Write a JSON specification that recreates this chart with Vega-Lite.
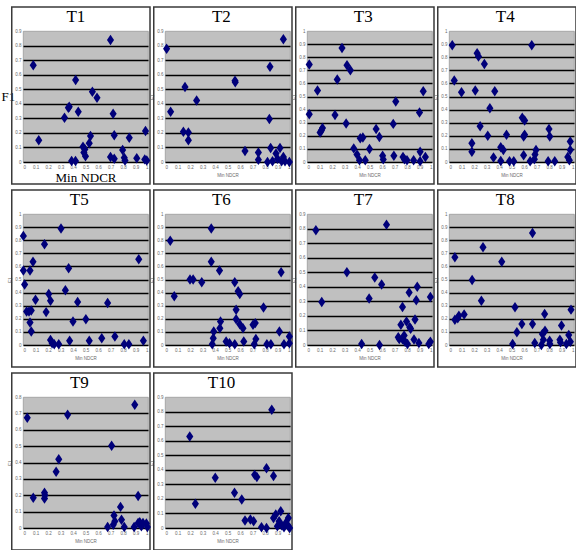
{
  "$schema": "https://vega.github.io/schema/vega-lite/v6.json",
  "background": "white",
  "padding": {"left": 0, "top": 5, "right": 0, "bottom": 0},
  "columns": 4,
  "spacing": {"row": 52, "column": 17},
  "bounds": "flush",
  "datasets": {
    "pts": [
      {"t":"T1","x":0.082,"y":0.664},{"t":"T1","x":0.126,"y":0.149},{"t":"T1","x":0.70,"y":0.838},{"t":"T1","x":0.421,"y":0.563},
      {"t":"T1","x":0.332,"y":0.304},{"t":"T1","x":0.363,"y":0.373},{"t":"T1","x":0.37,"y":0.38},{"t":"T1","x":0.442,"y":0.346},
      {"t":"T1","x":0.555,"y":0.483},{"t":"T1","x":0.592,"y":0.442},{"t":"T1","x":0.721,"y":0.332},{"t":"T1","x":0.389,"y":0.007},
      {"t":"T1","x":0.42,"y":0.007},{"t":"T1","x":0.48,"y":0.105},{"t":"T1","x":0.495,"y":0.087},{"t":"T1","x":0.50,"y":0.04},
      {"t":"T1","x":0.53,"y":0.128},{"t":"T1","x":0.54,"y":0.178},{"t":"T1","x":0.70,"y":0.034},{"t":"T1","x":0.73,"y":0.023},
      {"t":"T1","x":0.73,"y":0.183},{"t":"T1","x":0.85,"y":0.167},{"t":"T1","x":0.797,"y":0.082},{"t":"T1","x":0.81,"y":0.03},
      {"t":"T1","x":0.816,"y":0.01},{"t":"T1","x":0.91,"y":0.025},{"t":"T1","x":0.974,"y":0.018},{"t":"T1","x":0.99,"y":0.01},
      {"t":"T1","x":0.98,"y":0.213},{"t":"T1","x":0.487,"y":0.065},

      {"t":"T2","x":0.013,"y":0.778},{"t":"T2","x":0.045,"y":0.346},{"t":"T2","x":0.16,"y":0.515},{"t":"T2","x":0.147,"y":0.208},
      {"t":"T2","x":0.187,"y":0.203},{"t":"T2","x":0.187,"y":0.15},{"t":"T2","x":0.253,"y":0.423},{"t":"T2","x":0.56,"y":0.559},
      {"t":"T2","x":0.562,"y":0.548},{"t":"T2","x":0.64,"y":0.076},{"t":"T2","x":0.747,"y":0.065},{"t":"T2","x":0.747,"y":0.016},
      {"t":"T2","x":0.82,"y":0.0},{"t":"T2","x":0.84,"y":0.654},{"t":"T2","x":0.835,"y":0.296},{"t":"T2","x":0.845,"y":0.097},
      {"t":"T2","x":0.86,"y":0.005},{"t":"T2","x":0.888,"y":0.058},{"t":"T2","x":0.9,"y":0.023},{"t":"T2","x":0.92,"y":0.097},
      {"t":"T2","x":0.933,"y":0.005},{"t":"T2","x":0.947,"y":0.843},{"t":"T2","x":0.947,"y":0.035},{"t":"T2","x":0.995,"y":0.0},
      {"t":"T2","x":0.96,"y":0.005},

      {"t":"T3","x":0.018,"y":0.745},{"t":"T3","x":0.018,"y":0.364},{"t":"T3","x":0.084,"y":0.545},{"t":"T3","x":0.105,"y":0.226},
      {"t":"T3","x":0.115,"y":0.24},{"t":"T3","x":0.124,"y":0.26},{"t":"T3","x":0.224,"y":0.358},{"t":"T3","x":0.242,"y":0.629},
      {"t":"T3","x":0.28,"y":0.87},{"t":"T3","x":0.32,"y":0.738},{"t":"T3","x":0.347,"y":0.70},{"t":"T3","x":0.313,"y":0.294},
      {"t":"T3","x":0.374,"y":0.104},{"t":"T3","x":0.40,"y":0.057},{"t":"T3","x":0.42,"y":0.013},{"t":"T3","x":0.426,"y":0.182},
      {"t":"T3","x":0.447,"y":0.187},{"t":"T3","x":0.466,"y":0.013},{"t":"T3","x":0.50,"y":0.099},{"t":"T3","x":0.553,"y":0.252},
      {"t":"T3","x":0.579,"y":0.19},{"t":"T3","x":0.605,"y":0.047},{"t":"T3","x":0.61,"y":0.02},{"t":"T3","x":0.69,"y":0.291},
      {"t":"T3","x":0.71,"y":0.462},{"t":"T3","x":0.695,"y":0.047},{"t":"T3","x":0.768,"y":0.039},{"t":"T3","x":0.78,"y":0.02},
      {"t":"T3","x":0.80,"y":0.013},{"t":"T3","x":0.853,"y":0.013},{"t":"T3","x":0.90,"y":0.377},{"t":"T3","x":0.93,"y":0.54},
      {"t":"T3","x":0.905,"y":0.078},{"t":"T3","x":0.905,"y":0.005},{"t":"T3","x":0.947,"y":0.039},

      {"t":"T4","x":0.026,"y":0.891},{"t":"T4","x":0.042,"y":0.623},{"t":"T4","x":0.10,"y":0.532},{"t":"T4","x":0.183,"y":0.143},
      {"t":"T4","x":0.183,"y":0.078},{"t":"T4","x":0.21,"y":0.545},{"t":"T4","x":0.225,"y":0.831},{"t":"T4","x":0.236,"y":0.805},
      {"t":"T4","x":0.249,"y":0.273},{"t":"T4","x":0.283,"y":0.748},{"t":"T4","x":0.31,"y":0.20},{"t":"T4","x":0.327,"y":0.41},
      {"t":"T4","x":0.356,"y":0.034},{"t":"T4","x":0.366,"y":0.54},{"t":"T4","x":0.414,"y":0.112},{"t":"T4","x":0.414,"y":0.008},
      {"t":"T4","x":0.435,"y":0.091},{"t":"T4","x":0.46,"y":0.208},{"t":"T4","x":0.484,"y":0.005},{"t":"T4","x":0.518,"y":0.005},
      {"t":"T4","x":0.586,"y":0.338},{"t":"T4","x":0.605,"y":0.317},{"t":"T4","x":0.597,"y":0.195},{"t":"T4","x":0.605,"y":0.208},
      {"t":"T4","x":0.597,"y":0.052},{"t":"T4","x":0.649,"y":0.005},{"t":"T4","x":0.662,"y":0.891},{"t":"T4","x":0.683,"y":0.021},
      {"t":"T4","x":0.688,"y":0.057},{"t":"T4","x":0.696,"y":0.091},{"t":"T4","x":0.793,"y":0.005},{"t":"T4","x":0.80,"y":0.252},
      {"t":"T4","x":0.806,"y":0.195},{"t":"T4","x":0.846,"y":0.005},{"t":"T4","x":0.95,"y":0.039},{"t":"T4","x":0.963,"y":0.013},
      {"t":"T4","x":0.97,"y":0.156},{"t":"T4","x":0.97,"y":0.091},

      {"t":"T5","x":0.003,"y":0.833},{"t":"T5","x":0.003,"y":0.569},{"t":"T5","x":0.013,"y":0.462},{"t":"T5","x":0.029,"y":0.256},
      {"t":"T5","x":0.048,"y":0.256},{"t":"T5","x":0.066,"y":0.264},{"t":"T5","x":0.056,"y":0.569},{"t":"T5","x":0.08,"y":0.636},
      {"t":"T5","x":0.056,"y":0.172},{"t":"T5","x":0.066,"y":0.103},{"t":"T5","x":0.10,"y":0.346},{"t":"T5","x":0.172,"y":0.769},
      {"t":"T5","x":0.185,"y":0.251},{"t":"T5","x":0.206,"y":0.39},{"t":"T5","x":0.22,"y":0.338},{"t":"T5","x":0.22,"y":0.038},
      {"t":"T5","x":0.233,"y":0.013},{"t":"T5","x":0.25,"y":0.005},{"t":"T5","x":0.286,"y":0.005},{"t":"T5","x":0.304,"y":0.89},
      {"t":"T5","x":0.339,"y":0.418},{"t":"T5","x":0.365,"y":0.585},{"t":"T5","x":0.373,"y":0.033},{"t":"T5","x":0.40,"y":0.179},
      {"t":"T5","x":0.437,"y":0.328},{"t":"T5","x":0.503,"y":0.197},{"t":"T5","x":0.53,"y":0.033},{"t":"T5","x":0.63,"y":0.051},
      {"t":"T5","x":0.677,"y":0.32},{"t":"T5","x":0.735,"y":0.064},{"t":"T5","x":0.81,"y":0.005},{"t":"T5","x":0.847,"y":0.005},
      {"t":"T5","x":0.926,"y":0.654},{"t":"T5","x":0.963,"y":0.033},

      {"t":"T6","x":0.042,"y":0.795},{"t":"T6","x":0.074,"y":0.372},{"t":"T6","x":0.20,"y":0.50},{"t":"T6","x":0.225,"y":0.50},
      {"t":"T6","x":0.294,"y":0.479},{"t":"T6","x":0.37,"y":0.89},{"t":"T6","x":0.37,"y":0.636},{"t":"T6","x":0.378,"y":0.005},
      {"t":"T6","x":0.386,"y":0.051},{"t":"T6","x":0.39,"y":0.103},{"t":"T6","x":0.436,"y":0.569},{"t":"T6","x":0.439,"y":0.128},
      {"t":"T6","x":0.444,"y":0.179},{"t":"T6","x":0.489,"y":0.026},{"t":"T6","x":0.516,"y":0.013},{"t":"T6","x":0.558,"y":0.005},
      {"t":"T6","x":0.558,"y":0.479},{"t":"T6","x":0.569,"y":0.269},{"t":"T6","x":0.569,"y":0.197},{"t":"T6","x":0.585,"y":0.41},
      {"t":"T6","x":0.598,"y":0.39},{"t":"T6","x":0.598,"y":0.159},{"t":"T6","x":0.624,"y":0.128},{"t":"T6","x":0.63,"y":0.026},
      {"t":"T6","x":0.704,"y":0.154},{"t":"T6","x":0.722,"y":0.167},{"t":"T6","x":0.714,"y":0.005},{"t":"T6","x":0.727,"y":0.046},
      {"t":"T6","x":0.788,"y":0.287},{"t":"T6","x":0.815,"y":0.005},{"t":"T6","x":0.847,"y":0.005},{"t":"T6","x":0.915,"y":0.103},
      {"t":"T6","x":0.929,"y":0.556},{"t":"T6","x":0.952,"y":0.005},{"t":"T6","x":0.995,"y":0.064},{"t":"T6","x":0.995,"y":0.013},

      {"t":"T7","x":0.071,"y":0.788},{"t":"T7","x":0.118,"y":0.296},{"t":"T7","x":0.319,"y":0.499},{"t":"T7","x":0.437,"y":0.007},
      {"t":"T7","x":0.497,"y":0.319},{"t":"T7","x":0.542,"y":0.464},{"t":"T7","x":0.636,"y":0.827},{"t":"T7","x":0.597,"y":0.416},
      {"t":"T7","x":0.58,"y":0.0},{"t":"T7","x":0.73,"y":0.053},{"t":"T7","x":0.738,"y":0.042},{"t":"T7","x":0.751,"y":0.139},
      {"t":"T7","x":0.764,"y":0.261},{"t":"T7","x":0.777,"y":0.065},{"t":"T7","x":0.785,"y":0.023},{"t":"T7","x":0.796,"y":0.162},
      {"t":"T7","x":0.804,"y":0.007},{"t":"T7","x":0.817,"y":0.36},{"t":"T7","x":0.822,"y":0.122},{"t":"T7","x":0.829,"y":0.111},
      {"t":"T7","x":0.856,"y":0.037},{"t":"T7","x":0.864,"y":0.176},{"t":"T7","x":0.874,"y":0.307},{"t":"T7","x":0.882,"y":0.40},
      {"t":"T7","x":0.895,"y":0.014},{"t":"T7","x":0.974,"y":0.007},{"t":"T7","x":0.987,"y":0.33},{"t":"T7","x":0.987,"y":0.023},
      {"t":"T7","x":0.764,"y":0.04},

      {"t":"T8","x":0.047,"y":0.669},{"t":"T8","x":0.047,"y":0.193},{"t":"T8","x":0.079,"y":0.224},{"t":"T8","x":0.121,"y":0.232},
      {"t":"T8","x":0.07,"y":0.205},{"t":"T8","x":0.185,"y":0.496},{"t":"T8","x":0.259,"y":0.338},{"t":"T8","x":0.272,"y":0.746},
      {"t":"T8","x":0.422,"y":0.636},{"t":"T8","x":0.509,"y":0.008},{"t":"T8","x":0.528,"y":0.288},{"t":"T8","x":0.543,"y":0.097},
      {"t":"T8","x":0.583,"y":0.16},{"t":"T8","x":0.668,"y":0.16},{"t":"T8","x":0.668,"y":0.855},{"t":"T8","x":0.686,"y":0.015},
      {"t":"T8","x":0.739,"y":0.0},{"t":"T8","x":0.747,"y":0.084},{"t":"T8","x":0.755,"y":0.041},{"t":"T8","x":0.765,"y":0.237},
      {"t":"T8","x":0.768,"y":0.109},{"t":"T8","x":0.805,"y":0.033},{"t":"T8","x":0.807,"y":0.008},{"t":"T8","x":0.887,"y":0.041},
      {"t":"T8","x":0.892,"y":0.02},{"t":"T8","x":0.9,"y":0.148},{"t":"T8","x":0.939,"y":0.008},{"t":"T8","x":0.958,"y":0.076},
      {"t":"T8","x":0.971,"y":0.025},{"t":"T8","x":0.976,"y":0.27},

      {"t":"T9","x":0.034,"y":0.673},{"t":"T9","x":0.082,"y":0.185},{"t":"T9","x":0.172,"y":0.215},{"t":"T9","x":0.172,"y":0.18},
      {"t":"T9","x":0.175,"y":0.20},{"t":"T9","x":0.265,"y":0.343},{"t":"T9","x":0.286,"y":0.42},{"t":"T9","x":0.357,"y":0.691},
      {"t":"T9","x":0.709,"y":0.503},{"t":"T9","x":0.677,"y":0.006},{"t":"T9","x":0.722,"y":0.02},{"t":"T9","x":0.728,"y":0.076},
      {"t":"T9","x":0.735,"y":0.041},{"t":"T9","x":0.78,"y":0.129},{"t":"T9","x":0.788,"y":0.051},{"t":"T9","x":0.81,"y":0.006},
      {"t":"T9","x":0.889,"y":0.006},{"t":"T9","x":0.894,"y":0.753},{"t":"T9","x":0.921,"y":0.195},{"t":"T9","x":0.921,"y":0.031},
      {"t":"T9","x":0.947,"y":0.01},{"t":"T9","x":0.96,"y":0.031},{"t":"T9","x":0.987,"y":0.027},{"t":"T9","x":0.995,"y":0.006},
      {"t":"T9","x":0.934,"y":0.035},

      {"t":"T10","x":0.198,"y":0.628},{"t":"T10","x":0.243,"y":0.166},{"t":"T10","x":0.402,"y":0.346},{"t":"T10","x":0.556,"y":0.242},
      {"t":"T10","x":0.614,"y":0.196},{"t":"T10","x":0.64,"y":0.051},{"t":"T10","x":0.683,"y":0.058},{"t":"T10","x":0.709,"y":0.046},
      {"t":"T10","x":0.717,"y":0.365},{"t":"T10","x":0.735,"y":0.351},{"t":"T10","x":0.772,"y":0.005},{"t":"T10","x":0.812,"y":0.411},
      {"t":"T10","x":0.812,"y":0.0},{"t":"T10","x":0.854,"y":0.813},{"t":"T10","x":0.868,"y":0.358},{"t":"T10","x":0.868,"y":0.069},
      {"t":"T10","x":0.886,"y":0.092},{"t":"T10","x":0.899,"y":0.012},{"t":"T10","x":0.913,"y":0.046},{"t":"T10","x":0.926,"y":0.115},
      {"t":"T10","x":0.934,"y":0.018},{"t":"T10","x":0.952,"y":0.005},{"t":"T10","x":0.966,"y":0.035},{"t":"T10","x":0.987,"y":0.069},
      {"t":"T10","x":0.987,"y":0.012},{"t":"T10","x":0.997,"y":0.0}
    ]
  },
  "concat": [
    {
      "title": "T1", "width": 125, "height": 131,
      "resolve": {"axis": {"x": "independent", "y": "independent"}},
      "layer": [
        {"data": {"values": [{}]}, "mark": {"type": "rect", "fill": "transparent", "stroke": "#3a3a3a", "strokeWidth": 1.5},
         "encoding": {"x": {"datum": -0.09, "axis": null}, "x2": {"datum": 1.016}, "y": {"datum": -0.151, "axis": null}, "y2": {"datum": 1.065}}},
        {"data": {"name": "pts"}, "transform": [{"filter": "datum.t == 'T1'"}],
         "mark": {"type": "point", "shape": "M0,-1L0.68,0L0,1L-0.68,0Z", "filled": true, "color": "#00007a", "opacity": 1, "size": 110},
         "encoding": {
           "x": {"field": "x", "type": "quantitative", "scale": {"domain": [0, 1], "nice": false},
                 "axis": {"title": "Min NDCR", "titleFont": "Liberation Serif", "titleFontSize": 13, "titleColor": "#000", "titlePadding": 3, "values": [0,0.1,0.2,0.3,0.4,0.5,0.6,0.7,0.8,0.9,1], "format": ".1~f"}},
           "y": {"field": "y", "type": "quantitative", "scale": {"domain": [0, 0.9], "nice": false},
                 "axis": {"title": "F1", "titleFont": "Liberation Serif", "titleFontSize": 13, "titleColor": "#000", "titleAngle": 0, "titleAlign": "right", "titleBaseline": "middle", "titlePadding": 0, "values": [0,0.1,0.2,0.3,0.4,0.5,0.6,0.7,0.8,0.9], "format": ".1~f",
                          "grid": true, "gridOpacity": {"condition": {"test": "datum.value > 0.85", "value": 0}, "value": 1}}}
         }}
      ]
    },
    {
      "title": "T2", "width": 125, "height": 131,
      "resolve": {"axis": {"x": "independent", "y": "independent"}},
      "layer": [
        {"data": {"values": [{}]}, "mark": {"type": "rect", "fill": "transparent", "stroke": "#3a3a3a", "strokeWidth": 1.5},
         "encoding": {"x": {"datum": -0.09, "axis": null}, "x2": {"datum": 1.016}, "y": {"datum": -0.151, "axis": null}, "y2": {"datum": 1.065}}},
        {"data": {"name": "pts"}, "transform": [{"filter": "datum.t == 'T2'"}],
         "mark": {"type": "point", "shape": "M0,-1L0.68,0L0,1L-0.68,0Z", "filled": true, "color": "#00007a", "opacity": 1, "size": 110},
         "encoding": {
           "x": {"field": "x", "type": "quantitative", "scale": {"domain": [0, 1], "nice": false},
                 "axis": {"title": "Min NDCR", "values": [0,0.1,0.2,0.3,0.4,0.5,0.6,0.7,0.8,0.9,1], "format": ".1~f"}},
           "y": {"field": "y", "type": "quantitative", "scale": {"domain": [0, 0.9], "nice": false},
                 "axis": {"title": "F1", "values": [0,0.1,0.2,0.3,0.4,0.5,0.6,0.7,0.8,0.9], "format": ".1~f",
                          "grid": true, "gridOpacity": {"condition": {"test": "datum.value > 0.85", "value": 0}, "value": 1}}}
         }}
      ]
    },
    {
      "title": "T3", "width": 125, "height": 131,
      "resolve": {"axis": {"x": "independent", "y": "independent"}},
      "layer": [
        {"data": {"values": [{}]}, "mark": {"type": "rect", "fill": "transparent", "stroke": "#3a3a3a", "strokeWidth": 1.5},
         "encoding": {"x": {"datum": -0.09, "axis": null}, "x2": {"datum": 1.016}, "y": {"datum": -0.168, "axis": null}, "y2": {"datum": 1.183}}},
        {"data": {"name": "pts"}, "transform": [{"filter": "datum.t == 'T3'"}],
         "mark": {"type": "point", "shape": "M0,-1L0.68,0L0,1L-0.68,0Z", "filled": true, "color": "#00007a", "opacity": 1, "size": 110},
         "encoding": {
           "x": {"field": "x", "type": "quantitative", "scale": {"domain": [0, 1], "nice": false},
                 "axis": {"title": "Min NDCR", "values": [0,0.1,0.2,0.3,0.4,0.5,0.6,0.7,0.8,0.9,1], "format": ".1~f"}},
           "y": {"field": "y", "type": "quantitative", "scale": {"domain": [0, 1], "nice": false},
                 "axis": {"title": "F1", "values": [0,0.1,0.2,0.3,0.4,0.5,0.6,0.7,0.8,0.9,1], "format": ".1~f",
                          "grid": true, "gridOpacity": {"condition": {"test": "datum.value > 0.95", "value": 0}, "value": 1}}}
         }}
      ]
    },
    {
      "title": "T4", "width": 125, "height": 131,
      "resolve": {"axis": {"x": "independent", "y": "independent"}},
      "layer": [
        {"data": {"values": [{}]}, "mark": {"type": "rect", "fill": "transparent", "stroke": "#3a3a3a", "strokeWidth": 1.5},
         "encoding": {"x": {"datum": -0.09, "axis": null}, "x2": {"datum": 1.016}, "y": {"datum": -0.168, "axis": null}, "y2": {"datum": 1.183}}},
        {"data": {"name": "pts"}, "transform": [{"filter": "datum.t == 'T4'"}],
         "mark": {"type": "point", "shape": "M0,-1L0.68,0L0,1L-0.68,0Z", "filled": true, "color": "#00007a", "opacity": 1, "size": 110},
         "encoding": {
           "x": {"field": "x", "type": "quantitative", "scale": {"domain": [0, 1], "nice": false},
                 "axis": {"title": "Min NDCR", "values": [0,0.1,0.2,0.3,0.4,0.5,0.6,0.7,0.8,0.9,1], "format": ".1~f"}},
           "y": {"field": "y", "type": "quantitative", "scale": {"domain": [0, 1], "nice": false},
                 "axis": {"title": "F1", "values": [0,0.1,0.2,0.3,0.4,0.5,0.6,0.7,0.8,0.9,1], "format": ".1~f",
                          "grid": true, "gridOpacity": {"condition": {"test": "datum.value > 0.95", "value": 0}, "value": 1}}}
         }}
      ]
    },
    {
      "title": "T5", "width": 125, "height": 131,
      "resolve": {"axis": {"x": "independent", "y": "independent"}},
      "layer": [
        {"data": {"values": [{}]}, "mark": {"type": "rect", "fill": "transparent", "stroke": "#3a3a3a", "strokeWidth": 1.5},
         "encoding": {"x": {"datum": -0.09, "axis": null}, "x2": {"datum": 1.016}, "y": {"datum": -0.168, "axis": null}, "y2": {"datum": 1.183}}},
        {"data": {"name": "pts"}, "transform": [{"filter": "datum.t == 'T5'"}],
         "mark": {"type": "point", "shape": "M0,-1L0.68,0L0,1L-0.68,0Z", "filled": true, "color": "#00007a", "opacity": 1, "size": 110},
         "encoding": {
           "x": {"field": "x", "type": "quantitative", "scale": {"domain": [0, 1], "nice": false},
                 "axis": {"title": "Min NDCR", "values": [0,0.1,0.2,0.3,0.4,0.5,0.6,0.7,0.8,0.9,1], "format": ".1~f"}},
           "y": {"field": "y", "type": "quantitative", "scale": {"domain": [0, 1], "nice": false},
                 "axis": {"title": "F1", "values": [0,0.1,0.2,0.3,0.4,0.5,0.6,0.7,0.8,0.9,1], "format": ".1~f",
                          "grid": true, "gridOpacity": {"condition": {"test": "datum.value > 0.95", "value": 0}, "value": 1}}}
         }}
      ]
    },
    {
      "title": "T6", "width": 125, "height": 131,
      "resolve": {"axis": {"x": "independent", "y": "independent"}},
      "layer": [
        {"data": {"values": [{}]}, "mark": {"type": "rect", "fill": "transparent", "stroke": "#3a3a3a", "strokeWidth": 1.5},
         "encoding": {"x": {"datum": -0.09, "axis": null}, "x2": {"datum": 1.016}, "y": {"datum": -0.168, "axis": null}, "y2": {"datum": 1.183}}},
        {"data": {"name": "pts"}, "transform": [{"filter": "datum.t == 'T6'"}],
         "mark": {"type": "point", "shape": "M0,-1L0.68,0L0,1L-0.68,0Z", "filled": true, "color": "#00007a", "opacity": 1, "size": 110},
         "encoding": {
           "x": {"field": "x", "type": "quantitative", "scale": {"domain": [0, 1], "nice": false},
                 "axis": {"title": "Min NDCR", "values": [0,0.1,0.2,0.3,0.4,0.5,0.6,0.7,0.8,0.9,1], "format": ".1~f"}},
           "y": {"field": "y", "type": "quantitative", "scale": {"domain": [0, 1], "nice": false},
                 "axis": {"title": "F1", "values": [0,0.1,0.2,0.3,0.4,0.5,0.6,0.7,0.8,0.9,1], "format": ".1~f",
                          "grid": true, "gridOpacity": {"condition": {"test": "datum.value > 0.95", "value": 0}, "value": 1}}}
         }}
      ]
    },
    {
      "title": "T7", "width": 125, "height": 131,
      "resolve": {"axis": {"x": "independent", "y": "independent"}},
      "layer": [
        {"data": {"values": [{}]}, "mark": {"type": "rect", "fill": "transparent", "stroke": "#3a3a3a", "strokeWidth": 1.5},
         "encoding": {"x": {"datum": -0.09, "axis": null}, "x2": {"datum": 1.016}, "y": {"datum": -0.151, "axis": null}, "y2": {"datum": 1.065}}},
        {"data": {"name": "pts"}, "transform": [{"filter": "datum.t == 'T7'"}],
         "mark": {"type": "point", "shape": "M0,-1L0.68,0L0,1L-0.68,0Z", "filled": true, "color": "#00007a", "opacity": 1, "size": 110},
         "encoding": {
           "x": {"field": "x", "type": "quantitative", "scale": {"domain": [0, 1], "nice": false},
                 "axis": {"title": "Min NDCR", "values": [0,0.1,0.2,0.3,0.4,0.5,0.6,0.7,0.8,0.9,1], "format": ".1~f"}},
           "y": {"field": "y", "type": "quantitative", "scale": {"domain": [0, 0.9], "nice": false},
                 "axis": {"title": "F1", "values": [0,0.1,0.2,0.3,0.4,0.5,0.6,0.7,0.8,0.9], "format": ".1~f",
                          "grid": true, "gridOpacity": {"condition": {"test": "datum.value > 0.85", "value": 0}, "value": 1}}}
         }}
      ]
    },
    {
      "title": "T8", "width": 125, "height": 131,
      "resolve": {"axis": {"x": "independent", "y": "independent"}},
      "layer": [
        {"data": {"values": [{}]}, "mark": {"type": "rect", "fill": "transparent", "stroke": "#3a3a3a", "strokeWidth": 1.5},
         "encoding": {"x": {"datum": -0.09, "axis": null}, "x2": {"datum": 1.016}, "y": {"datum": -0.168, "axis": null}, "y2": {"datum": 1.183}}},
        {"data": {"name": "pts"}, "transform": [{"filter": "datum.t == 'T8'"}],
         "mark": {"type": "point", "shape": "M0,-1L0.68,0L0,1L-0.68,0Z", "filled": true, "color": "#00007a", "opacity": 1, "size": 110},
         "encoding": {
           "x": {"field": "x", "type": "quantitative", "scale": {"domain": [0, 1], "nice": false},
                 "axis": {"title": "Min NDCR", "values": [0,0.1,0.2,0.3,0.4,0.5,0.6,0.7,0.8,0.9,1], "format": ".1~f"}},
           "y": {"field": "y", "type": "quantitative", "scale": {"domain": [0, 1], "nice": false},
                 "axis": {"title": "F1", "values": [0,0.1,0.2,0.3,0.4,0.5,0.6,0.7,0.8,0.9,1], "format": ".1~f",
                          "grid": true, "gridOpacity": {"condition": {"test": "datum.value > 0.95", "value": 0}, "value": 1}}}
         }}
      ]
    },
    {
      "title": "T9", "width": 125, "height": 131,
      "resolve": {"axis": {"x": "independent", "y": "independent"}},
      "layer": [
        {"data": {"values": [{}]}, "mark": {"type": "rect", "fill": "transparent", "stroke": "#3a3a3a", "strokeWidth": 1.5},
         "encoding": {"x": {"datum": -0.09, "axis": null}, "x2": {"datum": 1.016}, "y": {"datum": -0.134, "axis": null}, "y2": {"datum": 0.947}}},
        {"data": {"name": "pts"}, "transform": [{"filter": "datum.t == 'T9'"}],
         "mark": {"type": "point", "shape": "M0,-1L0.68,0L0,1L-0.68,0Z", "filled": true, "color": "#00007a", "opacity": 1, "size": 110},
         "encoding": {
           "x": {"field": "x", "type": "quantitative", "scale": {"domain": [0, 1], "nice": false},
                 "axis": {"title": "Min NDCR", "values": [0,0.1,0.2,0.3,0.4,0.5,0.6,0.7,0.8,0.9,1], "format": ".1~f"}},
           "y": {"field": "y", "type": "quantitative", "scale": {"domain": [0, 0.8], "nice": false},
                 "axis": {"title": "F1", "values": [0,0.1,0.2,0.3,0.4,0.5,0.6,0.7,0.8], "format": ".1~f",
                          "grid": true, "gridOpacity": {"condition": {"test": "datum.value > 0.75", "value": 0}, "value": 1}}}
         }}
      ]
    },
    {
      "title": "T10", "width": 125, "height": 131,
      "resolve": {"axis": {"x": "independent", "y": "independent"}},
      "layer": [
        {"data": {"values": [{}]}, "mark": {"type": "rect", "fill": "transparent", "stroke": "#3a3a3a", "strokeWidth": 1.5},
         "encoding": {"x": {"datum": -0.09, "axis": null}, "x2": {"datum": 1.016}, "y": {"datum": -0.151, "axis": null}, "y2": {"datum": 1.065}}},
        {"data": {"name": "pts"}, "transform": [{"filter": "datum.t == 'T10'"}],
         "mark": {"type": "point", "shape": "M0,-1L0.68,0L0,1L-0.68,0Z", "filled": true, "color": "#00007a", "opacity": 1, "size": 110},
         "encoding": {
           "x": {"field": "x", "type": "quantitative", "scale": {"domain": [0, 1], "nice": false},
                 "axis": {"title": "Min NDCR", "values": [0,0.1,0.2,0.3,0.4,0.5,0.6,0.7,0.8,0.9,1], "format": ".1~f"}},
           "y": {"field": "y", "type": "quantitative", "scale": {"domain": [0, 0.9], "nice": false},
                 "axis": {"title": "F1", "values": [0,0.1,0.2,0.3,0.4,0.5,0.6,0.7,0.8,0.9], "format": ".1~f",
                          "grid": true, "gridOpacity": {"condition": {"test": "datum.value > 0.85", "value": 0}, "value": 1}}}
         }}
      ]
    }
  ],
  "config": {
    "view": {"fill": "#c0c0c0", "stroke": "#9a9a9a", "strokeWidth": 0.8},
    "axis": {
      "labelFont": "Liberation Sans", "labelFontSize": 4.5, "labelColor": "#6a6a6a", "labelOverlap": false,
      "titleFont": "Liberation Sans", "titleFontSize": 4.5, "titleColor": "#6a6a6a", "titleFontWeight": "normal",
      "domain": false, "ticks": false, "labelPadding": 2
    },
    "axisX": {"grid": false, "labelPadding": 2, "titlePadding": 4},
    "axisY": {"gridColor": "#000000", "gridWidth": 1.5, "titlePadding": 2},
    "title": {"font": "Liberation Serif", "fontSize": 17, "fontWeight": "normal", "color": "#000000", "baseline": "bottom", "offset": -20, "anchor": "middle", "frame": "bounds"}
  }
}
